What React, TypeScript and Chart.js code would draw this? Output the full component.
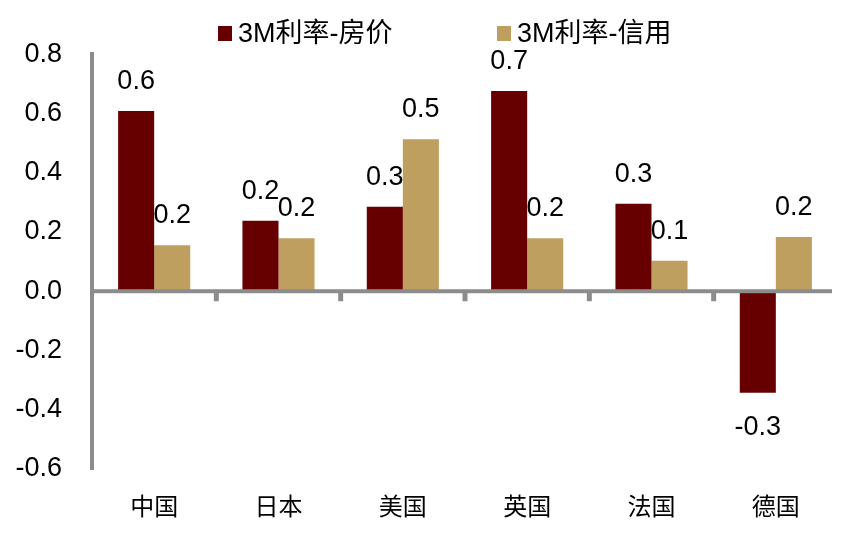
import React, { useEffect, useRef } from "react";
import { Chart, registerables } from "chart.js";

Chart.register(...registerables);

const categories = ["中国", "日本", "美国", "英国", "法国", "德国"];
const seriesNames = ["3M利率-房价", "3M利率-信用"];
const housePrice = [0.608, 0.238, 0.285, 0.676, 0.295, -0.343];
const credit = [0.155, 0.179, 0.513, 0.179, 0.103, 0.183];
const yTicks = [-0.6, -0.4, -0.2, 0.0, 0.2, 0.4, 0.6, 0.8];

const RED = "#660000";
const GOLD = "#BF9F5F";
const AXIS = "#8c8c8c";
const NUM_FONT = "'Liberation Sans', Arial, 'Noto Sans CJK SC', sans-serif";
const CJK_FONT = "'Noto Sans CJK SC', 'Liberation Sans', sans-serif";

const zeroAxisPlugin = {
  id: "zeroAxis",
  afterDatasetsDraw(chart: any) {
    const { ctx, chartArea, scales } = chart;
    const x = scales.x;
    const y = scales.y;
    const y0 = y.getPixelForValue(0);
    ctx.save();
    ctx.fillStyle = AXIS;
    ctx.fillRect(chartArea.left, y0 - 2, chartArea.right - 6 - chartArea.left, 4);
    for (let i = 1; i < categories.length; i++) {
      const bx = (x.getPixelForValue(i - 1) + x.getPixelForValue(i)) / 2;
      ctx.fillRect(bx - 2.5, y0, 5, 10);
    }
    ctx.restore();
  },
};

const valueLabelPlugin = {
  id: "valueLabels",
  afterDatasetsDraw(chart: any) {
    const { ctx } = chart;
    ctx.save();
    ctx.font = `27px ${NUM_FONT}`;
    ctx.fillStyle = "#000";
    ctx.textAlign = "center";
    ctx.textBaseline = "alphabetic";
    chart.data.datasets.forEach((ds: any, di: number) => {
      const meta = chart.getDatasetMeta(di);
      meta.data.forEach((bar: any, i: number) => {
        const v = ds.data[i];
        const txt = v.toFixed(1);
        if (v >= 0) {
          ctx.fillText(txt, bar.x, bar.y - 22);
        } else {
          ctx.fillText(txt, bar.x, bar.y + 42);
        }
      });
    });
    ctx.restore();
  },
};

const legendPlugin = {
  id: "customLegend",
  afterDraw(chart: any) {
    const { ctx } = chart;
    const items = [
      { x: 210, color: RED, text: seriesNames[0] },
      { x: 489, color: GOLD, text: seriesNames[1] },
    ];
    ctx.save();
    ctx.font = `27px ${NUM_FONT}`;
    ctx.textAlign = "left";
    ctx.textBaseline = "alphabetic";
    items.forEach((it) => {
      ctx.fillStyle = it.color;
      ctx.fillRect(it.x, 18, 14, 15);
      ctx.fillStyle = "#000";
      ctx.fillText(it.text, it.x + 20, 34);
    });
    ctx.restore();
  },
};

export default function App() {
  const ref = useRef<HTMLCanvasElement>(null);
  useEffect(() => {
    if (!ref.current) return;
    const chart = new Chart(ref.current, {
      type: "bar",
      data: {
        labels: categories,
        datasets: [
          {
            label: seriesNames[0],
            data: housePrice,
            backgroundColor: RED,
            categoryPercentage: 0.58,
            barPercentage: 1,
          },
          {
            label: seriesNames[1],
            data: credit,
            backgroundColor: GOLD,
            categoryPercentage: 0.58,
            barPercentage: 1,
          },
        ],
      },
      options: {
        responsive: false,
        animation: false,
        layout: { padding: { top: 44, left: 0, right: 0, bottom: 0 } },
        plugins: {
          legend: { display: false },
          tooltip: { enabled: false },
        },
        scales: {
          x: {
            grid: { display: false, drawTicks: false },
            border: { display: false },
            ticks: {
              font: { size: 24, family: CJK_FONT },
              color: "#000",
              padding: 22,
              maxRotation: 0,
            },
            afterFit: (s: any) => {
              s.height = 60;
            },
          },
          y: {
            min: -0.6,
            max: 0.8,
            afterBuildTicks: (s: any) => {
              s.ticks = yTicks.map((v) => ({ value: v }));
            },
            grid: { display: false, drawTicks: false },
            border: { display: true, color: AXIS, width: 4 },
            ticks: {
              font: { size: 27, family: NUM_FONT },
              color: "#000",
              padding: 30,
              callback: (v: any) => Number(v).toFixed(1),
            },
            afterFit: (s: any) => {
              s.width = 84;
            },
          },
        },
      },
      plugins: [zeroAxisPlugin, valueLabelPlugin, legendPlugin],
    });
    return () => chart.destroy();
  }, []);
  return (
    <canvas ref={ref} width={830} height={521} style={{ display: "block" }} />
  );
}
